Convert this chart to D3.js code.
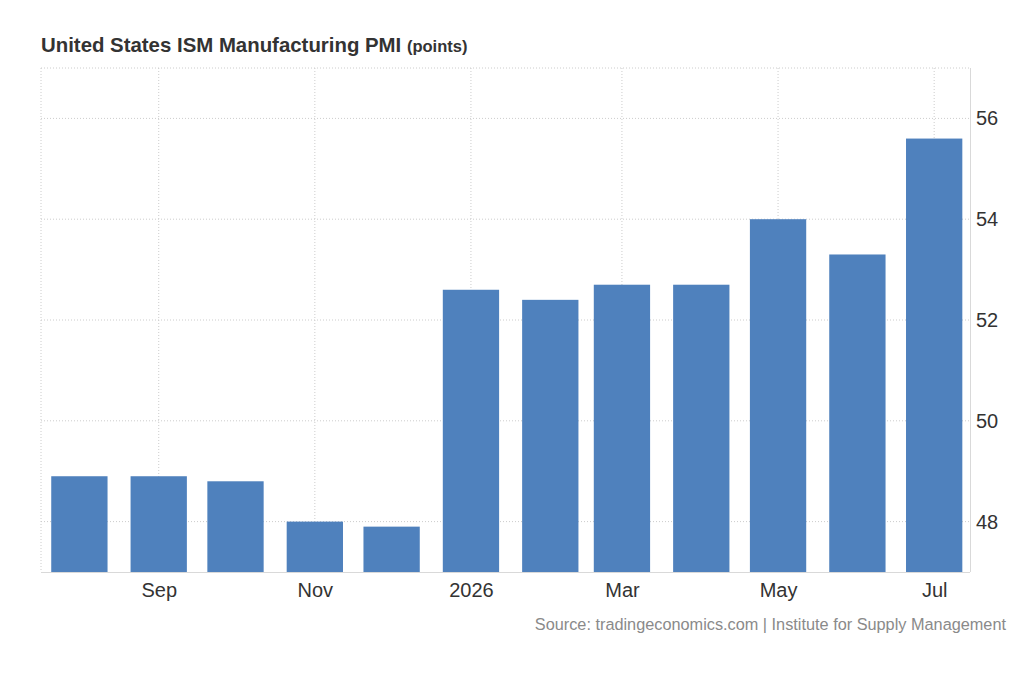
<!DOCTYPE html>
<style>
  body { margin: 0; background: #fff; }
  svg { font-family: "Liberation Sans", Arial, sans-serif; }
  .grid line { stroke: #cccccc; stroke-dasharray: 1,2; }
</style>
<svg width="1024" height="700"></svg>
<script src="https://d3js.org/d3.v7.min.js"></script>
<script>

// data (points)
var months = ["2025-08-01","2025-09-01","2025-10-01","2025-11-01","2025-12-01","2026-01-01",
              "2026-02-01","2026-03-01","2026-04-01","2026-05-01","2026-06-01","2026-07-01"];
var pmi = [48.9, 48.9, 48.8, 48.0, 47.9, 52.6, 52.4, 52.7, 52.7, 54.0, 53.3, 55.6];
var yTicks = [48, 50, 52, 54, 56];
var xTicks = ["2025-09-01","2025-11-01","2026-01-01","2026-03-01","2026-05-01","2026-07-01"];
var xTickLabels = ["Sep", "Nov", "2026", "Mar", "May", "Jul"];

var svg = d3.select("svg"),
    plotLeft = 41, plotRight = 970, plotTop = 68, plotBottom = 572;

var parse = d3.utcParse("%Y-%m-%d");
var data = months.map(function(m, i) { return { date: parse(m), value: pmi[i] }; });

var x = d3.scaleUtc()
    .domain([parse("2025-07-17"), parse("2026-07-15")])
    .range([plotLeft, plotRight]);

var y = d3.scaleLinear()
    .domain([47, 57])
    .range([plotBottom, plotTop]);

// bar width from the scale: ~22 days
var barW = x(d3.utcDay.offset(parse("2026-01-01"), 22)) - x(parse("2026-01-01"));

// title
var title = svg.append("text")
    .attr("x", 41)
    .attr("y", 52)
    .style("font-size", "20.4px")
    .style("font-weight", "bold")
    .style("fill", "#333");
title.append("tspan").text("United States ISM Manufacturing PMI ");
title.append("tspan").style("font-size", "16.5px").text("(points)");

// horizontal grid
var grid = svg.append("g").attr("class", "grid");
grid.selectAll(".h")
  .data(yTicks.concat([57]))
  .enter().append("line")
    .attr("x1", plotLeft).attr("x2", plotRight)
    .attr("y1", function(d) { return y(d); })
    .attr("y2", function(d) { return y(d); });

// vertical grid
grid.selectAll(".v")
  .data(xTicks.map(parse).concat([x.domain()[0]]))
  .enter().append("line")
    .attr("x1", function(d) { return x(d); })
    .attr("x2", function(d) { return x(d); })
    .attr("y1", plotTop).attr("y2", plotBottom);

// bars
svg.selectAll(".bar")
  .data(data)
  .enter().append("rect")
    .attr("class", "bar")
    .attr("x", function(d) { return x(d.date) - barW / 2; })
    .attr("width", barW)
    .attr("y", function(d) { return y(d.value); })
    .attr("height", function(d) { return y(47) - y(d.value); })
    .style("fill", "#4f81bd");

// axis lines
svg.append("line")
    .attr("x1", plotLeft).attr("x2", plotRight)
    .attr("y1", plotBottom + 0.5).attr("y2", plotBottom + 0.5)
    .style("stroke", "#d9d9d9");
svg.append("line")
    .attr("x1", plotRight + 0.5).attr("x2", plotRight + 0.5)
    .attr("y1", plotTop).attr("y2", plotBottom)
    .style("stroke", "#d9d9d9");

// y axis on the right
var yAxis = d3.axisRight(y)
    .tickValues(yTicks)
    .tickSize(0)
    .tickPadding(6)
    .tickFormat(d3.format("d"));
var gy = svg.append("g")
    .attr("transform", "translate(" + plotRight + ",0)")
    .call(yAxis);
gy.select(".domain").remove();
gy.selectAll("text")
    .style("font-size", "20px")
    .style("font-family", "Liberation Sans, Arial, sans-serif")
    .style("fill", "#333");

// x axis
var xAxis = d3.axisBottom(x)
    .tickValues(xTicks.map(parse))
    .tickSize(0)
    .tickPadding(11)
    .tickFormat(function(d, i) { return xTickLabels[i]; });
var gx = svg.append("g")
    .attr("transform", "translate(0," + plotBottom + ")")
    .call(xAxis);
gx.select(".domain").remove();
gx.selectAll("text")
    .style("font-size", "20px")
    .style("font-family", "Liberation Sans, Arial, sans-serif")
    .style("fill", "#333");

// source
svg.append("text")
    .attr("x", 1006)
    .attr("y", 630)
    .attr("text-anchor", "end")
    .style("font-size", "16.3px")
    .style("fill", "#8a8a8a")
    .text("Source: tradingeconomics.com | Institute for Supply Management");

</script>
